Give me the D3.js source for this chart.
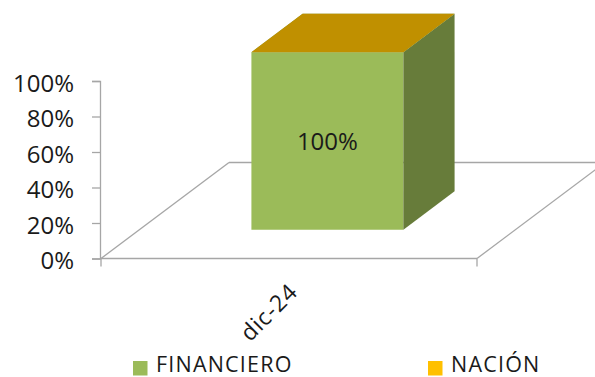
<!DOCTYPE html>
<html>
<head>
<meta charset="utf-8">
<script src="https://cdn.jsdelivr.net/npm/d3@7"></script>
<style>
  html, body { margin: 0; padding: 0; background: #fff; }
  svg { display: block; font-family: "Open Sans", "DejaVu Sans", sans-serif; }
</style>
</head>
<body>
<svg id="chart" width="595" height="377"></svg>
<script>
// ---- data ----
const categories = ["dic-24"];
const seriesNames = ["FINANCIERO", "NACIÓN"];
const financiero = [1.00];
const nacion = [0.00];
const yTicks = [0, 0.2, 0.4, 0.6, 0.8, 1.0];

// colours
const frontColors = {"FINANCIERO": "#9BBB59", "NACIÓN": "#FFC000"};
const sideColors  = {"FINANCIERO": "#677C3A", "NACIÓN": "#A88400"};
const topColors   = {"FINANCIERO": "#7C9A40", "NACIÓN": "#C09000"};

const table = categories.map((c, i) => ({cat: c, "FINANCIERO": financiero[i], "NACIÓN": nacion[i]}));
const stacked = d3.stack().keys(seriesNames)(table);

const svg = d3.select("#chart");

// ---- scales ----
const y = d3.scaleLinear().domain([0, 1]).range([258.5, 81]);
const x = d3.scaleBand().domain(categories).range([101, 477]).paddingInner(0).paddingOuter(0.737);

// depth of the floor (oblique projection)
const depth = {dx: 128, dy: -96};
const barFront = 0.3, barDepth = 0.4;

const axisColor = "#A6A6A6";

// ---- floor ----
const y0 = y(0);
const [fx0, fx1] = x.range();
const floor = svg.append("g").attr("stroke", axisColor).attr("stroke-width", 1.3).attr("fill", "none");
floor.append("line").attr("x1", fx0).attr("y1", y0).attr("x2", fx1).attr("y2", y0);
floor.append("line").attr("x1", fx0).attr("y1", y0).attr("x2", fx0 + depth.dx).attr("y2", y0 + depth.dy);
floor.append("line").attr("x1", fx1).attr("y1", y0).attr("x2", fx1 + depth.dx).attr("y2", y0 + depth.dy);
floor.append("line").attr("x1", fx0 + depth.dx).attr("y1", y0 + depth.dy).attr("x2", fx1 + depth.dx).attr("y2", y0 + depth.dy);
// category ticks at the ends
[fx0, fx1].forEach(v => floor.append("line").attr("x1", v).attr("y1", y0).attr("x2", v).attr("y2", y0 + 8));

// ---- y axis ----
const yAxis = d3.axisLeft(y).tickValues(yTicks).tickFormat(d3.format(".0%")).tickSize(8).tickPadding(18);
const gy = svg.append("g").attr("transform", "translate(100,0)").call(yAxis);
gy.select(".domain").attr("stroke", axisColor).attr("stroke-width", 1.3);
gy.selectAll(".tick line").attr("stroke", axisColor).attr("stroke-width", 1.3);
gy.selectAll(".tick text").attr("font-size", 24).attr("fill", "#1a1a1a")
  .attr("font-family", "'Open Sans', sans-serif").attr("dy", "0.42em");

// ---- 3D bars ----
const ox = depth.dx * barFront, oy = depth.dy * barFront;
const bx = depth.dx * barDepth, by = depth.dy * barDepth;
const bars = svg.append("g");
stacked.forEach(s => {
  const key = s.key;
  s.forEach(d => {
    const xl = x(d.data.cat) + ox, xr = xl + x.bandwidth();
    const yb = y(d[0]) + oy, yt = y(d[1]) + oy;
    const g = bars.append("g");
    if (d[1] - d[0] > 0) {
      g.append("polygon").attr("fill", frontColors[key])
        .attr("points", [[xl, yb], [xr, yb], [xr, yt], [xl, yt]].join(" "));
      g.append("polygon").attr("fill", sideColors[key])
        .attr("points", [[xr, yb], [xr + bx, yb + by], [xr + bx, yt + by], [xr, yt]].join(" "));
    }
    g.append("polygon").attr("fill", topColors[key])
      .attr("points", [[xl, yt], [xr, yt], [xr + bx, yt + by], [xl + bx, yt + by]].join(" "));
  });
});

// data labels
stacked.forEach(s => {
  s.forEach(d => {
    const v = d[1] - d[0];
    if (v <= 0) return;
    const cx = x(d.data.cat) + ox + x.bandwidth() / 2;
    const cy = (y(d[0]) + y(d[1])) / 2 + oy;
    svg.append("text").attr("x", cx).attr("y", cy).attr("dy", "0.36em")
      .attr("text-anchor", "middle").attr("font-size", 24).attr("fill", "#1a1a1a")
      .text(d3.format(".0%")(v));
  });
});

// category labels
categories.forEach(c => {
  const px = x(c) + x.bandwidth() / 2 + 10, py = y0 + 35;
  svg.append("text").attr("transform", `translate(${px},${py}) rotate(-45)`)
    .attr("text-anchor", "end").attr("font-size", 23).attr("letter-spacing", 0.8)
    .attr("fill", "#1a1a1a").text(c);
});

// ---- legend ----
const legendX = [133, 428];
const legend = svg.append("g");
seriesNames.forEach((n, i) => {
  legend.append("rect").attr("x", legendX[i]).attr("y", 361).attr("width", 14.5).attr("height", 14.5)
    .attr("fill", frontColors[n]);
  legend.append("text").attr("x", legendX[i] + 23).attr("y", 372).attr("font-size", 21.5)
    .attr("letter-spacing", 1.2).attr("fill", "#1a1a1a").text(n);
});
</script>
</body>
</html>
